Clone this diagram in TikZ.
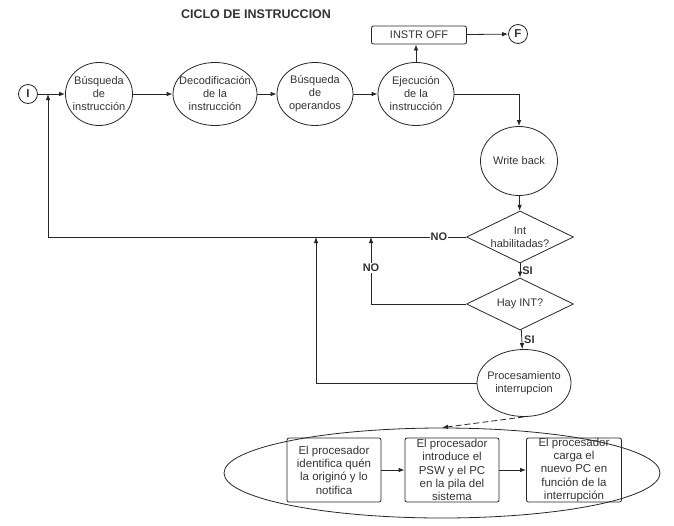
\documentclass[tikz,border=0pt]{standalone}
\usepackage{fontspec}
\setmainfont{Liberation Sans}
\usetikzlibrary{shapes.geometric,arrows.meta}
\begin{document}
\begin{tikzpicture}[x=1pt,y=-1pt,
  every node/.style={font=\fontsize{11}{13}\selectfont, text=black!80},
  ln/.style={draw=black!85, line width=0.8pt},
  arr/.style={ln, -{Latex[length=6pt,width=4.5pt]}},
  ell/.style={ellipse, draw=black!85, line width=0.8pt, inner sep=0pt, align=center},
  lbl/.style={align=center, inner sep=0pt},
  term/.style={circle, draw=black!85, line width=0.8pt, minimum size=19pt, inner sep=0pt, font=\bfseries\fontsize{11.5}{12}\selectfont},
  dia/.style={diamond, draw=black!85, line width=0.8pt, inner sep=0pt, minimum width=107pt, minimum height=52pt},
  boxr/.style={rectangle, rounded corners=2pt, draw=black!85, line width=0.8pt, inner sep=0pt, align=center},
  stepbox/.style={boxr, minimum width=94pt, minimum height=64pt, font=\fontsize{11.5}{13.3}\selectfont},
  yesno/.style={font=\bfseries\fontsize{11}{12}\selectfont, inner sep=1pt}
]
\useasboundingbox (0,0) rectangle (674,525);

\node[font=\bfseries\fontsize{12.5}{14}\selectfont] (title) at (256,14) {CICLO DE INSTRUCCION};

\node[term] (I) at (28,94) {I};
\node[ell, minimum width=67pt, minimum height=63pt, label={[lbl]center:Búsqueda\\de\\instrucción}] (e1) at (99,94) {};
\node[ell, minimum width=84pt, minimum height=63pt, label={[lbl]center:Decodificación\\de la\\instrucción}] (e2) at (215,94) {};
\node[ell, minimum width=76pt, minimum height=63pt, label={[lbl]center:Búsqueda\\de\\operandos}] (e3) at (315,94) {};
\node[ell, minimum width=76pt, minimum height=63pt, label={[lbl]center:Ejecución\\de la\\instrucción}] (e4) at (416,94) {};

\node[boxr, minimum width=95pt, minimum height=18pt] (off) at (419,35) {INSTR OFF};
\node[term] (F) at (518,34) {F};

\node[ell, minimum width=77pt, minimum height=69pt] (wb) at (519,161) {Write back};
\node[dia, label={[lbl]center:Int\\habilitadas?}] (d1) at (520,237) {};
\node[dia, label={[lbl]center:Hay INT?}] (d2) at (520,304) {};
\node[ell, minimum width=94pt, minimum height=67pt, label={[lbl]center:Procesamiento\\interrupcion}] (proc) at (524,383) {};

\node[stepbox] (r1) at (334,470) {El procesador\\identifica quén\\la originó y lo\\notifica};
\node[stepbox] (r2) at (452,470) {El procesador\\introduce el\\PSW y el PC\\en la pila del\\sistema};
\node[stepbox, minimum width=95pt] (r3) at (574,470) {El procesador\\carga el\\nuevo PC en\\función de la\\interrupción};
\node[ellipse, draw=black!85, line width=0.8pt, inner sep=0pt, minimum width=436pt, minimum height=90pt] (big) at (442,473) {};

\coordinate (j) at (48,94);
\coordinate (c2) at (371,237);
\coordinate (c3) at (316,237);

\draw[arr] (I) -- (e1);
\draw[arr] (e1) -- (e2);
\draw[arr] (e2) -- (e3);
\draw[arr] (e3) -- (e4);
\draw[arr] (e4.north) -- (e4.north |- off.south);
\draw[arr] (off) -- (F);
\draw[arr] (e4.east) -| (wb.north);
\draw[arr] (wb) -- (d1);
\draw[arr] (d1) -- node[yesno, right=1pt] {SI} (d2);
\draw[arr] (d2) -- node[yesno, right=1pt] {SI} (proc);
\draw[arr] (d1.west) -- node[yesno, fill=white, pos=0.065] {NO} (j |- d1.west) -- (j);
\draw[arr] (d2.west) -| node[yesno, fill=white, pos=0.77] {NO} (c2);
\draw[arr] (proc.west) -| (c3);
\draw[ln, dashed, dash pattern=on 6pt off 3pt, -{Latex[length=6pt,width=4.5pt]}] (proc.south) -- (big.north);
\draw[arr] (r1) -- (r2);
\draw[arr] (r2) -- (r3);
\end{tikzpicture}
\end{document}
